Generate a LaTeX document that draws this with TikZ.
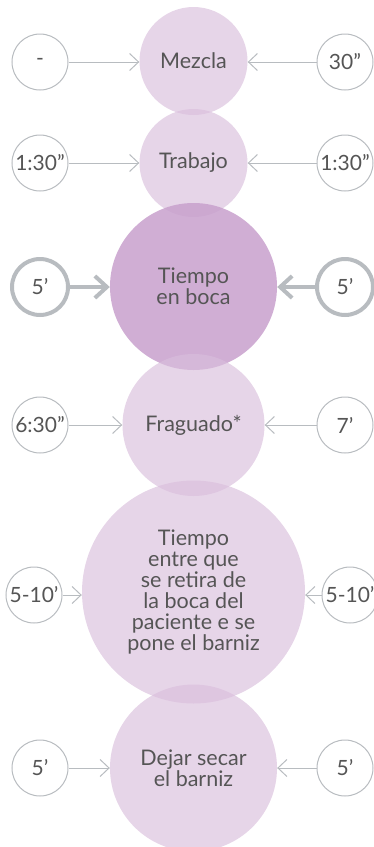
\documentclass[tikz,border=0pt]{standalone}
\usepackage{fontspec}
\setmainfont{Lato}
\usetikzlibrary{arrows.meta}
\definecolor{lilac}{RGB}{217,190,220}
\definecolor{darklilac}{RGB}{200,160,205}
\definecolor{txt}{RGB}{85,85,85}
\definecolor{ring}{RGB}{184,188,192}
\begin{document}
\begin{tikzpicture}[x=1pt,y=-1pt,
  font=\fontsize{21.5}{21}\selectfont, text=txt,
  main/.style={circle, fill=lilac, fill opacity=0.65, text opacity=1, inner sep=0pt, align=center},
  mainD/.style={circle, fill=darklilac, fill opacity=0.85, text opacity=1, inner sep=0pt, align=center},
  side/.style={circle, draw=ring, line width=1pt, minimum size=56pt, inner sep=0pt, font=\fontsize{21}{21}\selectfont},
  sideT/.style={circle, draw=ring, line width=4pt, minimum size=56pt, inner sep=0pt, font=\fontsize{21}{21}\selectfont},
  arr/.style={draw=ring, line width=1pt, -{Straight Barb[length=9pt,width=17pt]}},
  arrT/.style={draw=ring, line width=4pt, -{Straight Barb[length=12pt,width=22pt]}}
]
\useasboundingbox (0,0) rectangle (373,847);
% main circles
\node[main, minimum size=108pt] (m1) at (193.5,61) {Mezcla};
\node[main, minimum size=108pt] (m2) at (193.5,163) {Trabajo};
\node[mainD, minimum size=167pt] (m3) at (193.5,286.5) {Tiempo\\en boca};
\node[main, minimum size=142pt] (m4) at (193.5,425) {Fraguado*};
\node[main, minimum size=223pt] (m5) at (193.5,592) {Tiempo\\entre que\\se retira de\\la boca del\\paciente e se\\pone el barniz};
\node[main, minimum size=167pt] (m6) at (193.5,768) {Dejar secar\\el barniz};
% side circles
\node[side] (l1) at (40,62) {-};
\node[side] (r1) at (345,62) {30”};
\node[side] (l2) at (40,163) {1:30”};
\node[side] (r2) at (345,163) {1:30”};
\node[sideT] (l3) at (40,287) {5’};
\node[sideT] (r3) at (345,287) {5’};
\node[side] (l4) at (40,425) {6:30”};
\node[side] (r4) at (345,425) {7’};
\node[side] (l5) at (34,595) {5-10’};
\node[side] (r5) at (350,595) {5-10’};
\node[side] (l6) at (40,768) {5’};
\node[side] (r6) at (345,768) {5’};
% arrows
\draw[arr] (l1.east) -- (l1.east -| m1.west);
\draw[arr] (r1.west) -- (r1.west -| m1.east);
\draw[arr] (l2.east) -- (l2.east -| m2.west);
\draw[arr] (r2.west) -- (r2.west -| m2.east);
\draw[arrT] (l3.east) -- (l3.east -| m3.west);
\draw[arrT] (r3.west) -- (r3.west -| m3.east);
\draw[arr] (l4.east) -- (l4.east -| m4.west);
\draw[arr] (r4.west) -- (r4.west -| m4.east);
\draw[arr] (l5.east) -- (l5.east -| m5.west);
\draw[arr] (r5.west) -- (r5.west -| m5.east);
\draw[arr] (l6.east) -- (l6.east -| m6.west);
\draw[arr] (r6.west) -- (r6.west -| m6.east);
\end{tikzpicture}
\end{document}
